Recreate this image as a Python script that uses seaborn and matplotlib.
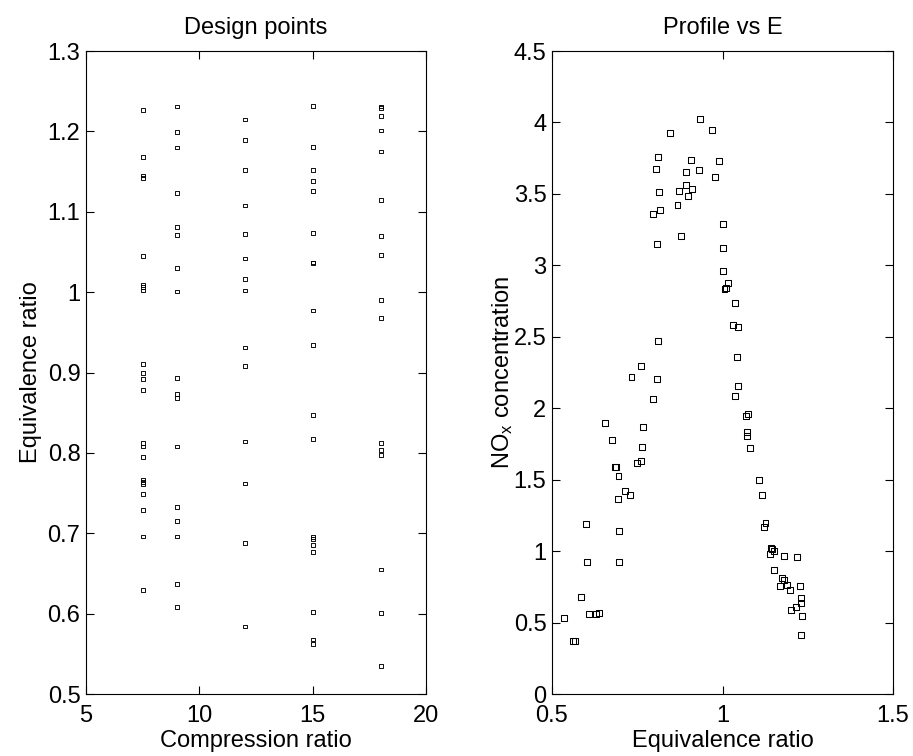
import numpy as np
import pandas as pd
import matplotlib
matplotlib.use("Agg")
import matplotlib.pyplot as plt
import seaborn as sns

# Ethanol engine runs: compression ratio, equivalence ratio and NOx output
compression = [18, 15, 15, 12, 18, 15, 9, 7.5, 9, 18,
               15, 15, 12, 15, 15, 7.5, 9, 9, 7.5, 9,
               7.5, 7.5, 12, 7.5, 7.5, 7.5, 18, 18, 7.5, 9,
               7.5, 18, 12, 15, 15, 9, 9, 7.5, 7.5, 9,
               7.5, 12, 7.5, 12, 15, 18, 15, 18, 9, 7.5,
               12, 7.5, 7.5, 12, 9, 15, 15, 12, 7.5, 18,
               18, 9, 12, 15, 9, 12, 18, 9, 15, 15,
               7.5, 7.5, 12, 15, 7.5, 18, 9, 15, 12, 9,
               18, 12, 18, 7.5, 18, 9, 18, 15]

equivalence = [0.535, 0.562, 0.568, 0.584, 0.601, 0.602, 0.608, 0.629, 0.637, 0.655,
               0.677, 0.685, 0.688, 0.693, 0.695, 0.696, 0.696, 0.715, 0.729, 0.733,
               0.749, 0.761, 0.762, 0.764, 0.767, 0.795, 0.797, 0.804, 0.808, 0.808,
               0.812, 0.812, 0.814, 0.817, 0.847, 0.868, 0.873, 0.878, 0.892, 0.893,
               0.899, 0.908, 0.911, 0.931, 0.934, 0.968, 0.977, 0.990, 1.001, 1.002,
               1.002, 1.006, 1.009, 1.016, 1.030, 1.036, 1.037, 1.042, 1.045, 1.046,
               1.070, 1.071, 1.072, 1.074, 1.081, 1.108, 1.115, 1.123, 1.126, 1.138,
               1.142, 1.145, 1.152, 1.152, 1.168, 1.175, 1.180, 1.181, 1.189, 1.199,
               1.201, 1.215, 1.219, 1.227, 1.229, 1.231, 1.231, 1.232]

nox = [0.532, 0.373, 0.373, 0.677, 1.192, 0.924, 0.562, 0.562, 0.569, 1.899,
       1.778, 1.589, 1.589, 1.367, 1.526, 1.139, 0.926, 1.419, 1.395, 2.218,
       1.619, 2.296, 1.633, 1.731, 1.869, 2.062, 3.359, 3.674, 3.147, 2.202,
       2.470, 3.758, 3.515, 3.387, 3.928, 3.422, 3.518, 3.205, 3.655, 3.564,
       3.487, 3.739, 3.534, 3.667, 4.026, 3.949, 3.620, 3.730, 3.119, 3.289,
       2.962, 2.836, 2.843, 2.878, 2.580, 2.739, 2.086, 2.356, 2.571, 2.158,
       1.948, 1.836, 1.806, 1.960, 1.720, 1.498, 1.391, 1.169, 1.199, 0.980,
       1.020, 1.015, 0.868, 1.001, 0.756, 0.810, 0.798, 0.966, 0.761, 0.728,
       0.588, 0.607, 0.961, 0.754, 0.415, 0.672, 0.639, 0.544]

df = pd.DataFrame({"C": compression, "E": equivalence, "NOx": nox})

sns.set_theme(style="white")
plt.rcParams["font.family"] = ["Liberation Sans", "DejaVu Sans"]
plt.rcParams["text.color"] = "black"
plt.rcParams["axes.labelcolor"] = "black"
plt.rcParams["axes.titlecolor"] = "black"
plt.rcParams["xtick.color"] = "black"
plt.rcParams["ytick.color"] = "black"
plt.rcParams["axes.edgecolor"] = "black"
plt.rcParams["axes.linewidth"] = 0.8
plt.rcParams["mathtext.fontset"] = "custom"
plt.rcParams["mathtext.rm"] = "Liberation Sans"
plt.rcParams["mathtext.it"] = "Liberation Sans"

fig = plt.figure(figsize=(9.13, 7.56), dpi=100)
ax1 = fig.add_axes([0.0942, 0.082, 0.3724, 0.8505])
ax2 = fig.add_axes([0.6046, 0.082, 0.3735, 0.8505])

fs = 17

sns.scatterplot(data=df, x="C", y="E", ax=ax1, marker="s", s=7,
                fc="none", ec="black", linewidth=0.65, legend=False)
ax1.set_xlim(5, 20)
ax1.set_ylim(0.5, 1.3)
ax1.set_xticks([5, 10, 15, 20])
ax1.set_xticklabels(["5", "10", "15", "20"])
yt1 = [0.5, 0.6, 0.7, 0.8, 0.9, 1.0, 1.1, 1.2, 1.3]
ax1.set_yticks(yt1)
ax1.set_yticklabels(["0.5", "0.6", "0.7", "0.8", "0.9", "1", "1.1", "1.2", "1.3"])
ax1.set_xlabel("Compression ratio", fontsize=fs, labelpad=2)
ax1.set_ylabel("Equivalence ratio", fontsize=fs, labelpad=4)
ax1.set_title("Design points", fontsize=fs, pad=12)

sns.scatterplot(data=df, x="E", y="NOx", ax=ax2, marker="s", s=18,
                fc="none", ec="black", linewidth=0.75, legend=False)
ax2.set_xlim(0.5, 1.5)
ax2.set_ylim(0, 4.5)
ax2.set_xticks([0.5, 1.0, 1.5])
ax2.set_xticklabels(["0.5", "1", "1.5"])
yt2 = [0, 0.5, 1, 1.5, 2, 2.5, 3, 3.5, 4, 4.5]
ax2.set_yticks(yt2)
ax2.set_yticklabels(["0", "0.5", "1", "1.5", "2", "2.5", "3", "3.5", "4", "4.5"])
ax2.set_xlabel("Equivalence ratio", fontsize=fs, labelpad=2)
ax2.set_ylabel("NO$_x$ concentration", fontsize=fs, labelpad=-1)
ax2.set_title("Profile vs E", fontsize=fs, pad=12)

for ax in (ax1, ax2):
    ax.tick_params(axis="both", direction="in", length=6, width=0.8,
                   labelsize=fs, top=True, right=True, bottom=True, left=True,
                   colors="black")
    ax.tick_params(axis="x", pad=8)
    ax.tick_params(axis="y", pad=4)
    for sp in ax.spines.values():
        sp.set_visible(True)
        sp.set_color("black")

fig.savefig("out.png", dpi=100, facecolor="white")
